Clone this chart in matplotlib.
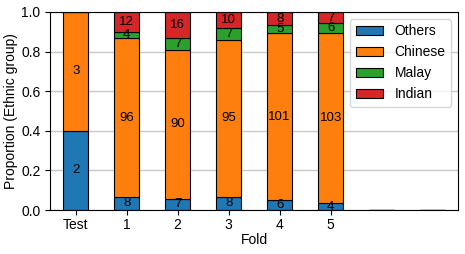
import matplotlib
matplotlib.use('Agg')
import matplotlib.pyplot as plt
import numpy as np

plt.rcParams['font.family'] = ['Liberation Sans', 'DejaVu Sans']

folds = ['Test', '1', '2', '3', '4', '5', '', '']
groups = ['Others', 'Chinese', 'Malay', 'Indian']
others = [2, 8, 7, 8, 6, 4, 0, 0]
chinese = [3, 96, 90, 95, 101, 103, 0, 0]
malay = [0, 4, 7, 7, 5, 6, 0, 0]
indian = [0, 12, 16, 10, 8, 7, 0, 0]
colors = ['#1f77b4', '#ff7f0e', '#2ca02c', '#d62728']

counts = np.array([others, chinese, malay, indian], dtype=float)
totals = counts.sum(axis=0)
props = np.divide(counts, totals, out=np.zeros_like(counts), where=totals > 0)

fig = plt.figure(figsize=(4.65, 2.54), dpi=100)
ax = fig.add_axes([0.108, 0.173, 0.877, 0.78])
x = np.arange(len(folds))
bottom = np.zeros(len(folds))
for i, g in enumerate(groups):
    ax.bar(x, props[i], 0.5, bottom=bottom, color=colors[i],
           edgecolor='black', linewidth=0.8, label=g)
    for j in range(len(folds)):
        if counts[i, j] > 0:
            ax.text(x[j], bottom[j] + props[i, j] / 2, str(int(counts[i, j])),
                    ha='center', va='center', fontsize=9.5)
    bottom += props[i]

ax.set_xlim(-0.5, 7.5)
ax.set_ylim(0, 1)
ax.set_xticks(x[:6])
ax.set_xticklabels(folds[:6], fontsize=10)
ax.tick_params(axis='x', pad=2)
ax.tick_params(axis='y', labelsize=10)
ax.set_xlabel('Fold', fontsize=10, labelpad=1)
ax.set_ylabel('Proportion (Ethnic group)', fontsize=10, labelpad=2)
ax.grid(axis='y', color='#c8c8c8', linewidth=1)
ax.set_axisbelow(True)
ax.legend(loc='upper right', fontsize=10)

fig.savefig('out.png', dpi=100)
